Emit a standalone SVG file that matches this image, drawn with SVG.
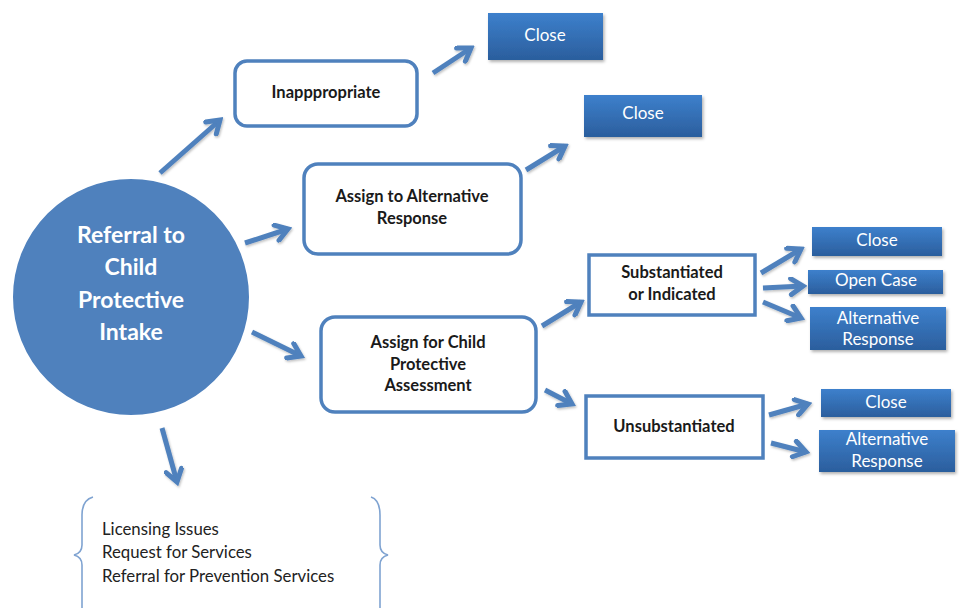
<svg xmlns="http://www.w3.org/2000/svg" width="959" height="608" viewBox="0 0 959 608">
<style>
  .wbox { fill: #ffffff; stroke: #4f81bd; stroke-width: 3.5; }
  .bbox { fill: url(#bgrad); filter: url(#shadow); }
  .dark { font-family: Lato, "Liberation Sans", sans-serif; font-weight: bold; font-size: 16.5px; fill: #1a1a1a; text-anchor: middle; }
  .light { font-family: Lato, "Liberation Sans", sans-serif; font-size: 17px; fill: #ffffff; text-anchor: middle; }
  .circ { font-family: Lato, "Liberation Sans", sans-serif; font-weight: bold; font-size: 23px; fill: #ffffff; text-anchor: middle; }
  .list { font-family: Lato, "Liberation Sans", sans-serif; font-size: 16.8px; fill: #222222; }
  .conn { stroke: #4f81bd; stroke-width: 5; fill: none; marker-end: url(#arr); filter: url(#ashadow); }
  .brace { stroke: #7fa3d1; stroke-width: 1.6; fill: none; }
</style>
<defs>
  <linearGradient id="bgrad" x1="0" y1="0" x2="0" y2="1">
    <stop offset="0" stop-color="#3d80cc"/>
    <stop offset="1" stop-color="#2b5e9d"/>
  </linearGradient>
  <filter id="shadow" x="-10%" y="-20%" width="125%" height="150%">
    <feDropShadow dx="1.5" dy="2" stdDeviation="1.5" flood-color="#000" flood-opacity="0.3"/>
  </filter>
  <filter id="ashadow" filterUnits="userSpaceOnUse" x="0" y="0" width="959" height="608">
    <feDropShadow dx="1" dy="1.5" stdDeviation="1.2" flood-color="#000" flood-opacity="0.25"/>
  </filter>
  <marker id="arr" viewBox="0 0 20 20" markerUnits="userSpaceOnUse" markerWidth="20" markerHeight="20" refX="16" refY="10" orient="auto">
    <path d="M4,2 L16,10 L4,18" fill="none" stroke="#4f81bd" stroke-width="5" stroke-linecap="round" stroke-linejoin="miter"/>
  </marker>
</defs>

<g id="connectors">
  <line class="conn" x1="160" y1="173" x2="220" y2="120"/>
  <line class="conn" x1="433" y1="73" x2="471" y2="48"/>
  <line class="conn" x1="245" y1="243" x2="288" y2="229"/>
  <line class="conn" x1="526" y1="170" x2="565" y2="146"/>
  <line class="conn" x1="252" y1="332" x2="301" y2="356"/>
  <line class="conn" x1="542" y1="326" x2="581" y2="302"/>
  <line class="conn" x1="545" y1="390" x2="572" y2="404"/>
  <line class="conn" x1="761" y1="273" x2="801" y2="249"/>
  <line class="conn" x1="763" y1="288" x2="803" y2="286"/>
  <line class="conn" x1="763" y1="302" x2="801" y2="318"/>
  <line class="conn" x1="769" y1="415" x2="808" y2="404"/>
  <line class="conn" x1="771" y1="443" x2="806" y2="452"/>
  <line class="conn" x1="162" y1="428" x2="177" y2="482"/>
</g>

<g id="referral">
  <circle cx="131" cy="297" r="119" fill="#4f81bd" stroke="#ffffff" stroke-width="2"/>
  <text class="circ" x="131" y="243">Referral to</text>
  <text class="circ" x="131" y="275">Child</text>
  <text class="circ" x="131" y="308">Protective</text>
  <text class="circ" x="131" y="340">Intake</text>
</g>

<g id="inappropriate">
  <rect class="wbox" x="235" y="61" width="182" height="65" rx="12"/>
  <text class="dark" x="326" y="98">Inapppropriate</text>
</g>

<g id="close1">
  <rect class="bbox" x="488" y="13" width="115" height="47"/>
  <text class="light" x="545" y="41">Close</text>
</g>

<g id="assign-alt">
  <rect class="wbox" x="304" y="164" width="217" height="90" rx="14"/>
  <text class="dark" x="412" y="202">Assign to Alternative</text>
  <text class="dark" x="412" y="224">Response</text>
</g>

<g id="close2">
  <rect class="bbox" x="584" y="95" width="118" height="42"/>
  <text class="light" x="643" y="119">Close</text>
</g>

<g id="assign-cp">
  <rect class="wbox" x="321" y="317" width="215" height="95" rx="14"/>
  <text class="dark" x="428" y="348">Assign for Child</text>
  <text class="dark" x="428" y="370">Protective</text>
  <text class="dark" x="428" y="391">Assessment</text>
</g>

<g id="substantiated">
  <rect class="wbox" x="589" y="255" width="166" height="60"/>
  <text class="dark" x="672" y="278">Substantiated</text>
  <text class="dark" x="672" y="300">or Indicated</text>
</g>

<g id="unsubstantiated">
  <rect class="wbox" x="586" y="396" width="177" height="62"/>
  <text class="dark" x="674" y="432">Unsubstantiated</text>
</g>

<g id="close3">
  <rect class="bbox" x="812" y="227" width="130" height="29"/>
  <text class="light" x="877" y="246">Close</text>
</g>

<g id="open-case">
  <rect class="bbox" x="808" y="270" width="135" height="24"/>
  <text class="light" x="876" y="286">Open Case</text>
</g>

<g id="alt-resp1">
  <rect class="bbox" x="810" y="307" width="136" height="43"/>
  <text class="light" x="878" y="324">Alternative</text>
  <text class="light" x="878" y="345">Response</text>
</g>

<g id="close4">
  <rect class="bbox" x="821" y="389" width="130" height="28"/>
  <text class="light" x="886" y="408">Close</text>
</g>

<g id="alt-resp2">
  <rect class="bbox" x="819" y="430" width="136" height="42"/>
  <text class="light" x="887" y="445">Alternative</text>
  <text class="light" x="887" y="467">Response</text>
</g>

<g id="other-list">
  <path class="brace" d="M93,497 Q82,500 82,515 L82,545 Q82,553 74,555 Q82,557 82,565 L82,608"/>
  <path class="brace" d="M371,497 Q380,500 380,515 L380,545 Q380,553 388,555 Q380,557 380,565 L380,608"/>
  <text class="list" x="102" y="535">Licensing Issues</text>
  <text class="list" x="102" y="558">Request for Services</text>
  <text class="list" x="102" y="582">Referral for Prevention Services</text>
</g>
</svg>
